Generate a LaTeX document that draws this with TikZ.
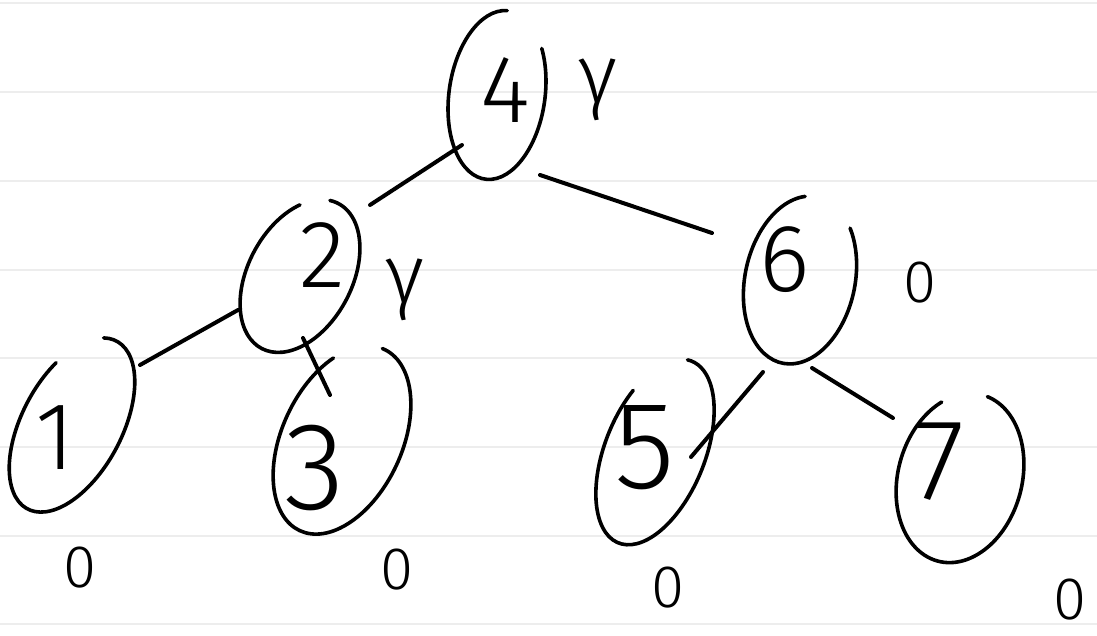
\documentclass[tikz,border=0pt]{standalone}
\usepackage{fontspec}
\setmainfont{Fira Sans}[UprightFont=* Light]
\usetikzlibrary{calc}
% open, tilted loop drawn around a node: node, rotation, x radius, y radius, start, end
\newcommand\ringarc[6]{%
  \begin{scope}[shift={(#1.center)},rotate=#2]
    \draw[pen] (#5:#3 and #4) arc[start angle=#5,end angle=#6,x radius=#3,y radius=#4];
  \end{scope}}
\begin{document}
\begin{tikzpicture}[x=0.5pt,y=-0.5pt,
  rule/.style={line width=1.2pt,draw=black!7},
  pen/.style={line width=1.8pt,line cap=round,line join=round},
  edge/.style={pen,line width=2pt},
  ring/.style={inner sep=0pt,minimum size=0pt},
  digit/.style={inner sep=0pt,font=\fontsize{48}{48}\selectfont},
  tag/.style={inner sep=0pt,font=\fontsize{30}{30}\selectfont},
  greek/.style={inner sep=0pt,font=\fontsize{42}{42}\selectfont}]
\useasboundingbox[fill=white] (0,0) rectangle (1097,636);
% ruled paper
\foreach \y in {3,92,181,270,358,447,536,624}
  \draw[rule] (0,\y) -- (1097,\y);
% loop centres
\node[ring] (n4) at (497,95) {};
\node[ring] (n2) at (300,276) {};
\node[ring] (n6) at (800,280) {};
\node[ring] (n1) at (72,425) {};
\node[ring] (n3) at (342,440) {};
\node[ring] (n5) at (655,452) {};
\node[ring] (n7) at (960,478) {};
% loops
\ringarc{n4}{-8}{24pt}{42.5pt}{92}{398}
\ringarc{n2}{-28}{26pt}{41pt}{130}{460}
\ringarc{n6}{-12}{27.5pt}{42.5pt}{103}{406}
\ringarc{n1}{-28}{25pt}{47.5pt}{150}{465}
\ringarc{n3}{-25}{30pt}{50pt}{135}{452}
\ringarc{n5}{-22}{25pt}{49pt}{150}{455}
\ringarc{n7}{-15}{31pt}{43pt}{127}{445}
% keys
\node[digit] (k4) at (505,90) {4};
\node[digit] (k2) at (322,255) {2};
\node[digit] (k6) at (785,260) {6};
\node[digit] (k1) at (55,438) {1};
\node[digit,scale=1.3] (k3) at (315,468) {3};
\node[digit,scale=1.3] (k5) at (645,448) {5};
\node[digit,scale=1.2] (k7) at (940,462) {7};
% colour / height tags
\node[greek] (c4) at (598,90) {γ};
\node[greek] (c2) at (405,290) {γ};
\node[tag] (c6) at (920,283) {0};
\node[tag] (c1) at (80,568) {0};
\node[tag] (c3) at (397,570) {0};
\node[tag] (c5) at (668,588) {0};
\node[tag] (c7) at (1070,600) {0};
% branches
\draw[edge] ($(n4)+(-35,50)$) -- ($(n2)+(70,-71)$);
\draw[edge] ($(n4)+(43,80)$) -- ($(n6)+(-88,-47)$);
\draw[edge] ($(n2)+(-62,34)$) -- ($(n1)+(68,-60)$);
\draw[edge] ($(n2)+(3,62)$) -- ($(n3)+(-12,-45)$);
\draw[edge] ($(n6)+(-37,92)$) -- ($(n5)+(36,5)$);
\draw[edge] ($(n6)+(12,88)$) -- ($(n7)+(-67,-60)$);
\end{tikzpicture}
\end{document}
